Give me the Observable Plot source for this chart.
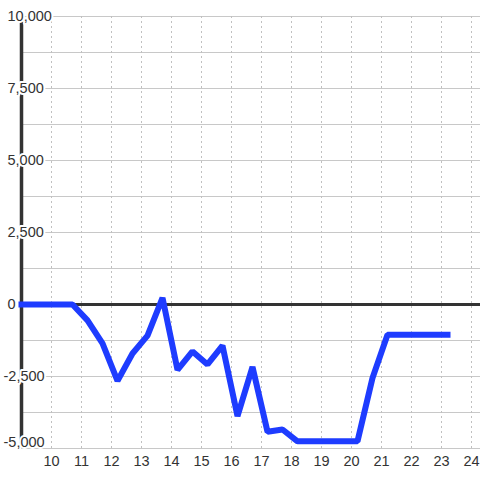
<!DOCTYPE html>
<html>
<head>
<meta charset="utf-8">
<script src="https://cdn.jsdelivr.net/npm/d3@7"></script>
<script src="https://cdn.jsdelivr.net/npm/@observablehq/plot@0.6"></script>
<style>
  html, body { margin: 0; padding: 0; background: #fff; }
</style>
</head>
<body>
<div id="chart"></div>
<script>
// Series
const xs = [9, 10.7, 11.2, 11.7, 12.2, 12.7, 13.2, 13.7, 14.2, 14.7, 15.2, 15.7, 16.2, 16.7, 17.2, 17.7, 18.2, 18.7, 19.2, 19.7, 20.2, 20.7, 21.2, 21.7, 22.2, 22.7, 23.2];
const ys = [0, 0, -550, -1350, -2650, -1700, -1080, 230, -2270, -1630, -2080, -1430, -3880, -2170, -4420, -4340, -4750, -4750, -4750, -4750, -4750, -2550, -1050, -1050, -1050, -1050, -1050];

// Axes
const xTicks = [10, 11, 12, 13, 14, 15, 16, 17, 18, 19, 20, 21, 22, 23, 24];
const yGrid = [-5000, -3750, -2500, -1250, 0, 1250, 2500, 3750, 5000, 6250, 7500, 8750, 10000];
const yTicksPos = [10000, 7500, 5000, 2500, 0];
const yLabelsPos = ["10,000", "7,500", "5,000", "2,500", "0"];
const yTicksNeg = [-2500];
const yLabelsNeg = ["-2,500"];
const yTicksBottom = [-5000];
const yLabelsBottom = ["-5,000"];

const data = xs.map((x, i) => ({x, y: ys[i]}));
const labelStyle = {fill: "#333", stroke: "white", strokeWidth: 4, paintOrder: "stroke"};

const chart = Plot.plot({
  width: 480,
  height: 480,
  marginTop: 16,
  marginBottom: 32,
  marginLeft: 21,
  marginRight: 0,
  style: {fontFamily: "'Liberation Sans', Arial, sans-serif", fontSize: "14.5px", background: "white"},
  x: {domain: [9, 24.3], axis: null},
  y: {domain: [-5000, 10000], axis: null},
  marks: [
    Plot.ruleY(yGrid, {stroke: "#c8c8c8", strokeWidth: 1}),
    Plot.ruleX(xTicks, {stroke: "#c0c0c0", strokeWidth: 1, strokeDasharray: "2,3"}),
    Plot.ruleY([0], {stroke: "#333", strokeWidth: 3}),
    Plot.ruleX([9], {y1: -5000, y2: 10000, stroke: "#333", strokeWidth: 3.5}),
    Plot.text(yTicksPos, {y: d => d, text: (d, i) => yLabelsPos[i], frameAnchor: "left", textAnchor: "start", dx: -14, lineAnchor: "middle", ...labelStyle}),
    Plot.text(yTicksNeg, {y: d => d, text: (d, i) => yLabelsNeg[i], frameAnchor: "left", textAnchor: "start", dx: -18, lineAnchor: "middle", ...labelStyle}),
    Plot.text(yTicksBottom, {y: d => d, text: (d, i) => yLabelsBottom[i], frameAnchor: "left", textAnchor: "start", dx: -18, dy: -6, lineAnchor: "middle", ...labelStyle}),
    Plot.text(xTicks, {x: d => d, text: d => String(d), frameAnchor: "bottom", dy: 12.5, lineAnchor: "middle", fill: "#333"}),
    Plot.line(data, {x: "x", y: "y", stroke: "#1e3cff", strokeWidth: 6, strokeLinecap: "square", strokeLinejoin: "miter"})
  ]
});
document.getElementById("chart").append(chart);
</script>
</body>
</html>
